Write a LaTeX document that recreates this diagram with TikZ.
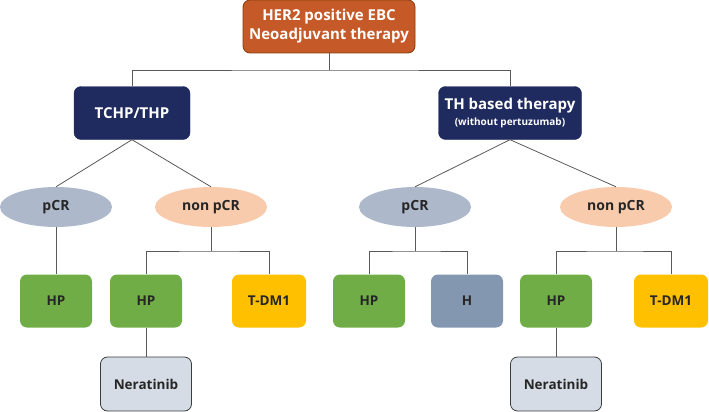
\documentclass[tikz,border=0pt]{standalone}
\usepackage{fontspec}
\setmainfont{Open Sans}
\usetikzlibrary{shapes.geometric}
\definecolor{rust}{HTML}{C55A28}
\definecolor{rustline}{HTML}{843C0C}
\definecolor{navy}{HTML}{1F2A5E}
\definecolor{pcrblue}{HTML}{ADB9CA}
\definecolor{peach}{HTML}{F8CBAD}
\definecolor{leafgreen}{HTML}{70AD47}
\definecolor{amber}{HTML}{FFC000}
\definecolor{slate}{HTML}{8497B0}
\definecolor{paleblue}{HTML}{D6DCE5}
\definecolor{wire}{HTML}{595959}
\definecolor{ink}{HTML}{262626}

\tikzset{
  box/.style={rectangle, rounded corners=7pt, inner sep=0pt, align=center,
    font=\bfseries\fontsize{13.5}{16}\selectfont, text=ink},
  topbox/.style={box, fill=rust, draw=rustline, line width=0.8pt, text=white,
    minimum width=172pt, minimum height=53pt, font=\bfseries\fontsize{15}{19}\selectfont},
  armbox/.style={box, fill=navy, draw=navy, text=white, minimum height=53pt,
    font=\bfseries\fontsize{15}{18}\selectfont},
  resp/.style={ellipse, inner sep=0pt, minimum width=112pt, minimum height=40pt,
    font=\bfseries\fontsize{14}{16}\selectfont, text=ink},
  leaf/.style={box, minimum width=72pt, minimum height=53pt},
  nerbox/.style={box, fill=paleblue, draw=ink!90, line width=0.8pt,
    minimum width=91pt, minimum height=54pt},
  wires/.style={draw=wire, line width=0.8pt}
}

\begin{document}
\begin{tikzpicture}[x=1pt,y=-1pt]
  \useasboundingbox (0,0) rectangle (709,412);

  % top
  \node[topbox] (her2) at (329,26.5) {HER2 positive EBC\\Neoadjuvant therapy};

  % arms
  \node[armbox, minimum width=116pt] (tchp) at (132,113) {TCHP/THP};
  \node[armbox, minimum width=143pt] (th) at (510,113)
    {TH based therapy\\[-2pt]{\fontsize{10}{11}\selectfont (without pertuzumab)}};

  % responses
  \node[resp, fill=pcrblue] (pcrA) at (56,207) {pCR};
  \node[resp, fill=peach] (npcrA) at (211,207) {non pCR};
  \node[resp, fill=pcrblue] (pcrB) at (415,207) {pCR};
  \node[resp, fill=peach] (npcrB) at (616,207) {non pCR};

  % treatments
  \node[leaf, fill=leafgreen] (hpA) at (56,301) {HP};
  \node[leaf, fill=leafgreen] (hpB) at (146,301) {HP};
  \node[leaf, fill=amber, minimum width=74pt] (tdmA) at (269,301) {T-DM1};
  \node[leaf, fill=leafgreen] (hpC) at (369,301) {HP};
  \node[leaf, fill=slate] (hA) at (467,301) {H};
  \node[leaf, fill=leafgreen] (hpD) at (556,301) {HP};
  \node[leaf, fill=amber, minimum width=74pt] (tdmB) at (671,301) {T-DM1};

  \node[nerbox] (nerA) at (146,384) {Neratinib};
  \node[nerbox] (nerB) at (556,384) {Neratinib};

  % bars
  \coordinate (barTop) at (329,70);
  \coordinate (barA) at (211,251);
  \coordinate (barB) at (415,251);
  \coordinate (barC) at (616,251);

  % connectors
  \draw[wires] (her2.south) -- (barTop);
  \draw[wires] (tchp.north) |- (barTop) -| (th.north);
  \draw[wires] (tchp.south) -- (pcrA.north);
  \draw[wires] (tchp.south) -- (npcrA.north);
  \draw[wires] (th.south) -- (pcrB.north);
  \draw[wires] (th.south) -- (npcrB.north);
  \draw[wires] (pcrA.south) -- (hpA.north);
  \draw[wires] (npcrA.south) -- (barA);
  \draw[wires] (hpB.north) |- (barA) -| (tdmA.north);
  \draw[wires] (pcrB.south) -- (barB);
  \draw[wires] (hpC.north) |- (barB) -| (hA.north);
  \draw[wires] (npcrB.south) -- (barC);
  \draw[wires] (hpD.north) |- (barC) -| (tdmB.north);
  \draw[wires] (hpB.south) -- (nerA.north);
  \draw[wires] (hpD.south) -- (nerB.north);
\end{tikzpicture}
\end{document}
